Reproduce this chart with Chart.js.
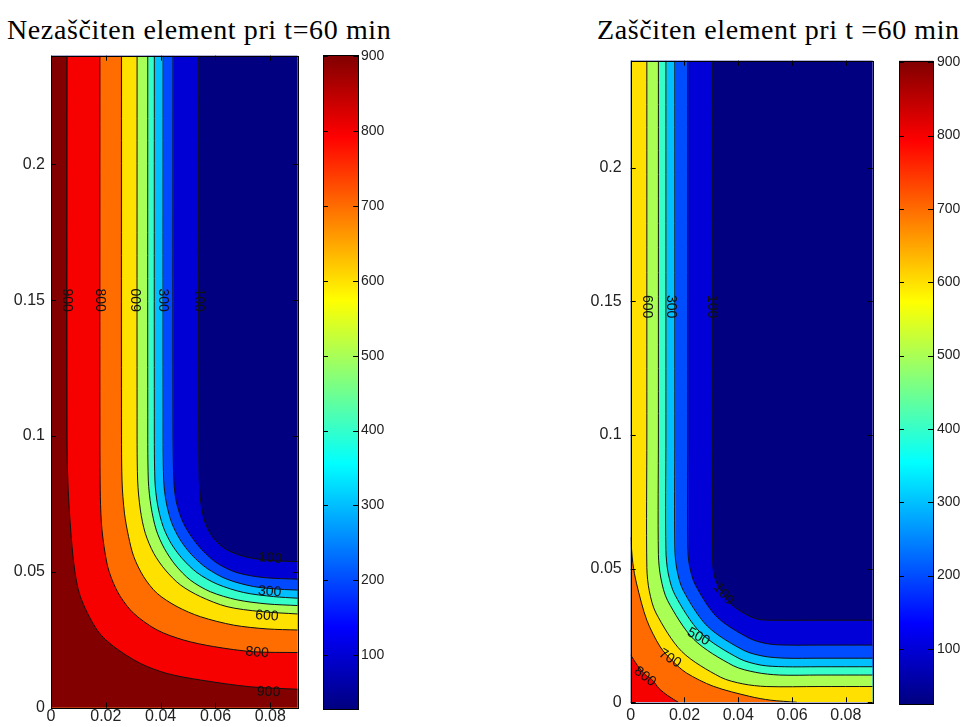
<!DOCTYPE html>
<html>
<head>
<meta charset="utf-8">
<script src="https://cdn.jsdelivr.net/npm/chart.js@4.4.1/dist/chart.umd.min.js"></script>
<style>
  body { margin: 0; background: #fff; width: 965px; height: 727px; position: relative; overflow: hidden; }
  canvas { position: absolute; top: 0; }
  .title { position: absolute; top: 16px; font-family: "Liberation Serif", "Times New Roman", serif;
           font-size: 28px; line-height: 28px; letter-spacing: 0.6px; color: #000; white-space: nowrap; }
</style>
</head>
<body>
<div class="title" style="left:7px">Nezaščiten element pri t=60 min</div>
<div class="title" style="left:597px">Zaščiten element pri t =60 min</div>
<canvas id="nez" width="310" height="727" style="left:0"></canvas>
<canvas id="nezBar" width="100" height="727" style="left:300px"></canvas>
<canvas id="zas" width="310" height="727" style="left:570px"></canvas>
<canvas id="zasBar" width="85" height="727" style="left:880px"></canvas>
<script>
// ── Temperature field, 60 min fire exposure, two cross sections ────────────
// Each contour is read off the picture as [x, y] in metres; the isotherm runs
// from the top (or left) edge down to the right (or bottom) edge.

const levels   = [100, 200, 300, 400, 500, 600, 700, 800, 900];
const xTicks   = [0, 0.02, 0.04, 0.06, 0.08];
const yTicks   = [0, 0.05, 0.1, 0.15, 0.2];
const barTicks = [100, 200, 300, 400, 500, 600, 700, 800, 900];
const xMax = 0.09, yMax = 0.24;
const nezRange = [28, 902];   // colour limits, unprotected
const zasRange = [25, 902];   // colour limits, protected

// unprotected element
const nez100 = [[0.0539,0.24],[0.0539,0.11],[0.0541,0.0838],[0.0547,0.0753],[0.0563,0.0679],[0.0593,0.0624],[0.0642,0.0581],[0.0715,0.0554],[0.0812,0.0541],[0.09,0.0538]];
const nez200 = [[0.0445,0.24],[0.0445,0.11],[0.0448,0.0838],[0.0457,0.0759],[0.0478,0.0691],[0.0508,0.0636],[0.0551,0.0581],[0.0606,0.0532],[0.0679,0.0497],[0.0776,0.0479],[0.09,0.0473]];
const nez300 = [[0.0409,0.24],[0.0409,0.11],[0.0411,0.0838],[0.0421,0.0753],[0.0441,0.0679],[0.0472,0.0617],[0.0514,0.0562],[0.0569,0.0513],[0.0642,0.0473],[0.0739,0.0446],[0.0837,0.0436],[0.09,0.0433]];
const nez400 = [[0.0377,0.24],[0.0377,0.11],[0.0379,0.0838],[0.0389,0.0746],[0.0409,0.0667],[0.0438,0.0605],[0.0478,0.055],[0.0533,0.0497],[0.0606,0.0455],[0.0703,0.0424],[0.0812,0.0409],[0.09,0.0403]];
const nez500 = [[0.0353,0.24],[0.0353,0.11],[0.0355,0.0838],[0.0365,0.074],[0.0384,0.0654],[0.0413,0.0587],[0.0454,0.0525],[0.0508,0.047],[0.0581,0.0427],[0.0679,0.0397],[0.0788,0.0382],[0.09,0.0376]];
const nez600 = [[0.0314,0.24],[0.0314,0.11],[0.0316,0.0838],[0.0326,0.0728],[0.0344,0.0642],[0.0375,0.0568],[0.0417,0.0507],[0.0472,0.0452],[0.0545,0.0409],[0.0642,0.0372],[0.0764,0.0354],[0.09,0.0345]];
const nez700 = [[0.0257,0.24],[0.0257,0.11],[0.0259,0.0838],[0.0268,0.0716],[0.0283,0.063],[0.0302,0.0556],[0.0338,0.0482],[0.0387,0.0421],[0.046,0.0372],[0.0545,0.0335],[0.0666,0.0304],[0.0788,0.029],[0.09,0.0286]];
const nez800 = [[0.0178,0.24],[0.0178,0.1],[0.018,0.0777],[0.0186,0.0654],[0.0204,0.0532],[0.0223,0.047],[0.0253,0.0409],[0.0302,0.0347],[0.0387,0.0286],[0.0484,0.0249],[0.0593,0.0225],[0.0739,0.0206],[0.09,0.0203]];
const nez900 = [[0.0058,0.24],[0.0058,0.1],[0.0064,0.0777],[0.0083,0.0532],[0.0107,0.0409],[0.0168,0.0286],[0.0229,0.0225],[0.0326,0.0163],[0.0423,0.0126],[0.0545,0.0102],[0.0727,0.0077],[0.09,0.0068]];

// protected element (no 900 isotherm)
const zas100 = [[0.0305,0.24],[0.0305,0.1],[0.0305,0.0527],[0.0309,0.0484],[0.0322,0.0442],[0.037,0.037],[0.0442,0.0322],[0.0484,0.0309],[0.0527,0.0307],[0.07,0.0307],[0.09,0.0307]];
const zas200 = [[0.0212,0.24],[0.0212,0.1],[0.0212,0.0581],[0.0219,0.0509],[0.024,0.044],[0.032,0.032],[0.044,0.024],[0.0509,0.0219],[0.0581,0.0214],[0.07,0.0214],[0.09,0.0214]];
const zas300 = [[0.0164,0.24],[0.0164,0.1],[0.0164,0.0577],[0.0172,0.0496],[0.0195,0.0419],[0.0285,0.0285],[0.0419,0.0195],[0.0496,0.0172],[0.0577,0.0165],[0.07,0.0165],[0.09,0.0165]];
const zas400 = [[0.0131,0.24],[0.0131,0.1],[0.0131,0.0571],[0.0139,0.0485],[0.0164,0.0403],[0.026,0.026],[0.0403,0.0164],[0.0485,0.0139],[0.0571,0.0133],[0.07,0.0133],[0.09,0.0133]];
const zas500 = [[0.0103,0.24],[0.0103,0.1],[0.0103,0.0553],[0.0112,0.0465],[0.0137,0.0381],[0.0235,0.0235],[0.0381,0.0137],[0.0465,0.0112],[0.0553,0.0102],[0.07,0.0102],[0.09,0.0102]];
const zas600 = [[0.006,0.24],[0.006,0.1],[0.006,0.0504],[0.0069,0.0417],[0.0094,0.0334],[0.019,0.019],[0.0334,0.0094],[0.0417,0.0069],[0.0504,0.0059],[0.07,0.0059],[0.09,0.0059]];
const zas700 = [[0,0.0618],[0.0008,0.052],[0.0022,0.0443],[0.006,0.0307],[0.011,0.0207],[0.0155,0.0155],[0.0207,0.011],[0.0307,0.006],[0.0443,0.0022],[0.052,0.0008],[0.0618,0]];
const zas800 = [[0,0.0177],[0.0025,0.0138],[0.0052,0.0105],[0.0082,0.0082],[0.0105,0.0052],[0.0138,0.0025],[0.0177,0]];

// inline contour labels: [text, x, y] and their rotation in degrees
const nezLabels = [['900',0.0058,0.15],['800',0.0178,0.15],['600',0.0314,0.15],['300',0.0409,0.15],['100',0.0539,0.15],
                   ['100',0.080,0.055],['300',0.0798,0.0427],['600',0.0788,0.0338],['800',0.0752,0.0203],['900',0.0794,0.0058]];
const nezAngles = [90, 90, -90, 90, 90, 4, 4, 4, 4, 2];
const zasLabels = [['600',0.006,0.148],['300',0.0148,0.148],['100',0.0301,0.148],
                   ['100',0.0345,0.0405],['500',0.0252,0.0245],['700',0.0146,0.0164],['800',0.0053,0.0096]];
const zasAngles = [90, 90, 90, 50, 28, 32, 38];

const SANS = '"Liberation Sans", Arial, sans-serif';
Chart.defaults.font.family = SANS;

// MATLAB 'jet' colour for a value inside the colour limits
function jet(v, range) {
  const t = Math.min(1, Math.max(0, (v - range[0]) / (range[1] - range[0])));
  const c = k => Math.round(255 * Math.min(1, Math.max(0, 1.5 - Math.abs(4 * t - k))));
  return `rgb(${c(3)},${c(2)},${c(1)})`;
}

const fmt = v => String(Math.round(v * 1000) / 1000);

// background band, contour labels, inward ticks and the box
const framePlugin = {
  id: 'frame',
  beforeDatasetsDraw(chart, args, opts) {
    if (!opts.bg) return;
    const a = chart.chartArea, ctx = chart.ctx;
    ctx.save();
    ctx.fillStyle = opts.bg;
    ctx.fillRect(a.left, a.top, a.right - a.left, a.bottom - a.top);
    ctx.restore();
  },
  afterDatasetsDraw(chart, args, opts) {
    const a = chart.chartArea, ctx = chart.ctx;
    const sx = chart.scales.x, sy = chart.scales.y;
    ctx.save();
    if (opts.labels) {
      ctx.font = '14px ' + SANS;
      ctx.fillStyle = '#111';
      ctx.textAlign = 'center';
      ctx.textBaseline = 'middle';
      opts.labels.forEach((l, i) => {
        ctx.save();
        ctx.translate(sx.getPixelForValue(l[1]), sy.getPixelForValue(l[2]));
        ctx.rotate(opts.angles[i] * Math.PI / 180);
        ctx.fillText(l[0], 0, 0);
        ctx.restore();
      });
    }
    ctx.strokeStyle = '#000';
    ctx.lineWidth = 1;
    ctx.beginPath();
    sy.ticks.forEach(t => {
      const p = Math.round(sy.getPixelForValue(t.value)) + 0.5;
      ctx.moveTo(a.left, p); ctx.lineTo(a.left + 5, p);
      ctx.moveTo(a.right, p); ctx.lineTo(a.right - 5, p);
    });
    if (sx.options.display) {
      sx.ticks.forEach(t => {
        const p = Math.round(sx.getPixelForValue(t.value)) + 0.5;
        ctx.moveTo(p, a.bottom); ctx.lineTo(p, a.bottom - 5);
        ctx.moveTo(p, a.top); ctx.lineTo(p, a.top + 5);
      });
    }
    ctx.stroke();
    ctx.strokeRect(Math.round(a.left) + 0.5, Math.round(a.top) + 0.5,
                   Math.round(a.right - a.left), Math.round(a.bottom - a.top));
    ctx.restore();
  }
};

function contourChart(id, contours, range, labels, angles, box) {
  const datasets = [];
  // hottest isotherm first so it ends up drawn on top
  for (let i = contours.length - 1; i >= 0; i--) {
    const pts = contours[i].map(p => ({ x: p[0], y: p[1] }));
    const color = jet(levels[i], range);
    datasets.push({ data: pts, borderColor: '#111', borderWidth: 1, backgroundColor: color,
                    fill: 'start', tension: 0.3, pointRadius: 0 });
    // isotherm entering through the top edge: the strip left of it is hotter too
    // (a hair wider than the strip so no seam shows under the contour line)
    if (pts[0].y >= yMax) {
      datasets.push({ data: [{ x: 0, y: yMax }, { x: pts[0].x + 0.0003, y: yMax }],
                      borderColor: 'rgba(0,0,0,0)', borderWidth: 1, backgroundColor: color,
                      fill: 'start', pointRadius: 0 });
    }
  }
  return new Chart(document.getElementById(id), {
    type: 'line',
    data: { datasets },
    plugins: [framePlugin],
    options: {
      responsive: false, animation: false, events: [],
      layout: { padding: { left: 0, right: box.padRight, top: box.top, bottom: 0 } },
      plugins: {
        legend: { display: false }, tooltip: { enabled: false },
        frame: { bg: jet(range[0], range), labels, angles }
      },
      scales: {
        x: {
          type: 'linear', min: 0, max: xMax,
          grid: { display: false, drawTicks: false }, border: { display: false },
          afterBuildTicks: s => { s.ticks = xTicks.map(v => ({ value: v })); },
          afterFit: s => { s.height = box.xh; },
          ticks: { color: '#222', font: { size: 16, lineHeight: 1 }, padding: box.xpad,
                   maxRotation: 0, autoSkip: false, callback: v => fmt(v) }
        },
        y: {
          type: 'linear', min: 0, max: yMax,
          grid: { display: false, drawTicks: false }, border: { display: false },
          afterBuildTicks: s => { s.ticks = yTicks.map(v => ({ value: v })); },
          afterFit: s => { s.width = box.yw; },
          ticks: { color: '#222', font: { size: 16, lineHeight: 1 }, padding: box.ypad,
                   autoSkip: false, callback: v => fmt(v) }
        }
      }
    }
  });
}

function colorBar(id, range, box) {
  const stops = [0, 0.125, 0.375, 0.625, 0.875, 1];
  return new Chart(document.getElementById(id), {
    type: 'bar',
    data: {
      labels: [''],
      datasets: [{
        data: [[range[0], range[1]]],
        barPercentage: 1, categoryPercentage: 1, borderWidth: 0,
        backgroundColor: ctx => {
          const a = ctx.chart.chartArea;
          if (!a) return '#000080';
          const g = ctx.chart.ctx.createLinearGradient(0, a.bottom, 0, a.top);
          stops.forEach(t => g.addColorStop(t, jet(range[0] + t * (range[1] - range[0]), range)));
          return g;
        }
      }]
    },
    plugins: [framePlugin],
    options: {
      responsive: false, animation: false, events: [],
      layout: { padding: { left: box.left, right: 0, top: box.top, bottom: box.bottom } },
      plugins: { legend: { display: false }, tooltip: { enabled: false }, frame: {} },
      scales: {
        x: { display: false },
        y: {
          position: 'right', min: range[0], max: range[1],
          grid: { display: false, drawTicks: false }, border: { display: false },
          afterBuildTicks: s => { s.ticks = barTicks.map(v => ({ value: v })); },
          afterFit: s => { s.width = box.yw; },
          ticks: { color: '#222', font: { size: 14, lineHeight: 1 }, padding: box.pad, autoSkip: false }
        }
      }
    }
  });
}

contourChart('nez', [nez100, nez200, nez300, nez400, nez500, nez600, nez700, nez800, nez900],
             nezRange, nezLabels, nezAngles,
             { yw: 51, padRight: 12.3, top: 55.7, xh: 19.3, xpad: 1.3, ypad: 6 });
contourChart('zas', [zas100, zas200, zas300, zas400, zas500, zas600, zas700, zas800],
             zasRange, zasLabels, zasAngles,
             { yw: 60.7, padRight: 7.3, top: 60.7, xh: 24.7, xpad: 5.7, ypad: 9 });
colorBar('nezBar', nezRange, { left: 23, top: 55, bottom: 18, yw: 42, pad: 3 });
colorBar('zasBar', zasRange, { left: 19, top: 60.7, bottom: 23, yw: 32, pad: 4 });
</script>
</body>
</html>
